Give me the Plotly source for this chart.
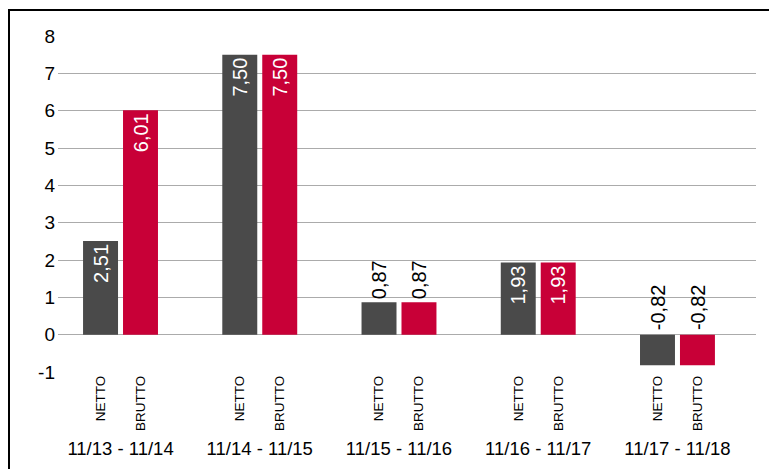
import plotly.graph_objects as go

# ---- data ----
periods = ["11/13 - 11/14", "11/14 - 11/15", "11/15 - 11/16", "11/16 - 11/17", "11/17 - 11/18"]
netto = [2.51, 7.50, 0.87, 1.93, -0.82]
brutto = [6.01, 7.50, 0.87, 1.93, -0.82]
series_names = ["NETTO", "BRUTTO"]
y_ticks = [-1, 0, 1, 2, 3, 4, 5, 6, 7, 8]

# ---- style / layout params (page body has an 8px margin) ----
OFF = 8
PAGE_W, PAGE_H = 777, 469
W, H = PAGE_W - OFF, PAGE_H - OFF
PLOT_L, PLOT_R, PLOT_T, Y_BOTTOM_PX, PAPER_B = 58, 756, 36, 372, 435   # page pixels
ML, MR, MT = PLOT_L - OFF, W - (PLOT_R - OFF), PLOT_T - OFF
MB = H - (PAPER_B - OFF)
BARGAP, BARGROUPGAP = 0.426, 0.125
COL_NETTO, COL_BRUTTO = "#4a4a4a", "#c80037"
FONT = "Liberation Sans, Arial, Helvetica, sans-serif"
LABEL_SIZE = 20

plot_w = W - ML - MR
plot_h = H - MT - MB
ydom0 = (PAPER_B - Y_BOTTOM_PX) / plot_h

x_idx = list(range(len(periods)))
slot = (1 - BARGAP) / 2
offsets = [-slot / 2, slot / 2]


def fmt(v):
    return f"{v:.2f}".replace(".", ",")


def positions(vals):
    out = []
    for v in vals:
        if v < 0:
            out.append("none")
        elif v >= 1.5:
            out.append("inside")
        else:
            out.append("outside")
    return out


fig = go.Figure()
for name, vals, col in [("NETTO", netto, COL_NETTO), ("BRUTTO", brutto, COL_BRUTTO)]:
    fig.add_trace(go.Bar(
        x=x_idx, y=vals, name=name,
        marker=dict(color=col, line=dict(width=0)),
        text=[fmt(v) for v in vals],
        textposition=positions(vals),
        textangle=-90,
        insidetextanchor="end",
        insidetextfont=dict(color="white", size=LABEL_SIZE, family=FONT),
        outsidetextfont=dict(color="black", size=LABEL_SIZE, family=FONT),
        constraintext="none",
        cliponaxis=False,
        showlegend=False,
        xaxis="x", yaxis="y",
    ))

# labels for negative bars, placed above the zero line
annotations = []
for k, vals in enumerate([netto, brutto]):
    for i, v in enumerate(vals):
        if v < 0:
            annotations.append(dict(
                x=i + offsets[k], y=0, xref="x", yref="y",
                text=fmt(v), showarrow=False, textangle=-90,
                xanchor="center", yanchor="bottom", yshift=3,
                font=dict(color="black", size=LABEL_SIZE, family=FONT),
            ))

# sub-category tick labels
sub_vals, sub_text = [], []
for i in x_idx:
    for k, nm in enumerate(series_names):
        sub_vals.append(i + offsets[k])
        sub_text.append(nm)

xrange = [-0.449, 4.564]

# dummy trace on second x axis for group labels
fig.add_trace(go.Scatter(x=x_idx, y=[None] * len(x_idx), xaxis="x2", yaxis="y",
                         showlegend=False, hoverinfo="skip", mode="markers"))

fig.update_layout(
    width=W, height=H,
    margin=dict(l=ML, r=MR, t=MT, b=MB, autoexpand=False),
    paper_bgcolor="white", plot_bgcolor="white",
    barmode="group", bargap=BARGAP, bargroupgap=BARGROUPGAP,
    font=dict(family=FONT, color="black"),
    xaxis=dict(range=xrange, tickvals=sub_vals, ticktext=sub_text, tickangle=-90,
               tickfont=dict(size=13.5, color="black"), showgrid=False, zeroline=False,
               showline=False, ticks="", anchor="y", automargin=False),
    xaxis2=dict(range=xrange, overlaying="x", anchor="free", position=0, side="bottom",
                tickvals=x_idx, ticktext=periods, tickfont=dict(size=18.5, color="black"),
                showgrid=False, zeroline=False, showline=False, ticks="", automargin=False),
    yaxis=dict(domain=[ydom0, 1], range=[-1, 8], tickvals=y_ticks,
               ticktext=[str(t) for t in y_ticks], tickfont=dict(size=19, color="black"),
               showgrid=True, gridcolor="#ababab", gridwidth=1,
               zeroline=True, zerolinecolor="#ababab", zerolinewidth=1,
               showline=False, ticks="", ticklabelstandoff=2, automargin=False),
    annotations=annotations,
    shapes=[dict(type="rect", xref="paper", yref="paper",
                 x0=(9 - OFF - ML) / plot_w, x1=1.2,
                 y0=-0.3, y1=(PAPER_B - 10) / plot_h,
                 line=dict(color="black", width=2), fillcolor="rgba(0,0,0,0)", layer="above")],
)

fig.write_html("out.html")
